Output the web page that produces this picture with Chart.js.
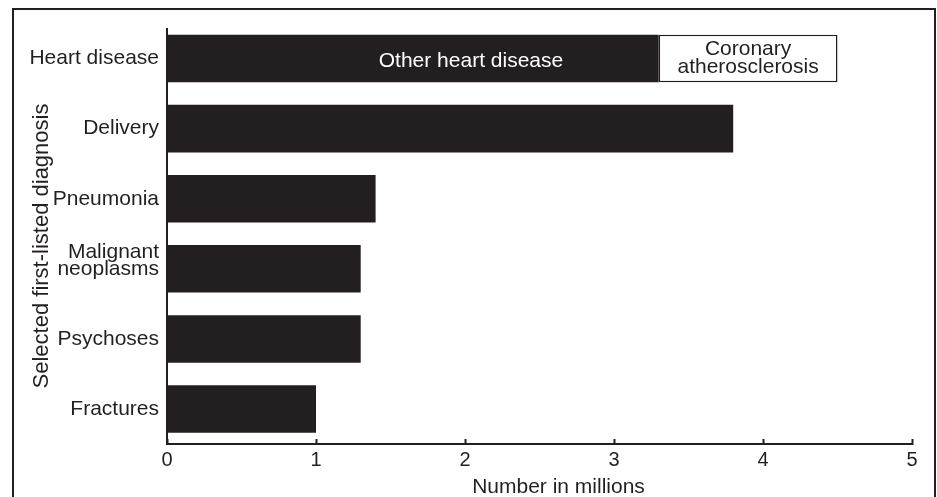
<!DOCTYPE html>
<html>
<head>
<meta charset="utf-8">
<script src="https://cdn.jsdelivr.net/npm/chart.js@4.4.1/dist/chart.umd.min.js"></script>
<style>
  html, body { margin: 0; padding: 0; background: #fff; }
  #wrap { position: relative; width: 937px; height: 497px; overflow: hidden; }
  #frame { position: absolute; left: 12px; top: 8px; width: 920px; height: 600px; border: 2px solid #231f20; }
  canvas { position: absolute; left: 0; top: 0; }
</style>
</head>
<body>
<div id="wrap">
  <div id="frame"></div>
  <canvas id="diagChart" width="937" height="497"></canvas>
</div>
<script>
// data (millions of discharges)
const diagnoses = ['Heart disease', 'Delivery', 'Pneumonia', ['Malignant', 'neoplasms'], 'Psychoses', 'Fractures'];
const otherValues = [3.3, 3.8, 1.4, 1.3, 1.3, 1.0];
const coronaryValues = [1.2];
const xTickValues = [0, 1, 2, 3, 4, 5];
const seriesNames = ['Other heart disease', ['Coronary', 'atherosclerosis']];
const otherLabelAt = 2.04;
const xTitle = 'Number in millions';
const yTitle = 'Selected first-listed diagnosis';

const ink = '#231f20';
const fontFamily = '"Liberation Sans", Arial, Helvetica, sans-serif';
Chart.defaults.font.family = fontFamily;
Chart.defaults.color = ink;

// text inside the heart disease bar + axis titles
const annotate = {
    id: 'annotate',
    afterDatasetsDraw(chart) {
        const ctx = chart.ctx;
        const xs = chart.scales.x;
        const other = chart.getDatasetMeta(0).data[0];
        const coronary = chart.getDatasetMeta(1).data[0];
        ctx.save();
        ctx.font = '21px ' + fontFamily;
        ctx.textAlign = 'center';
        ctx.textBaseline = 'alphabetic';
        ctx.fillStyle = '#fff';
        ctx.fillText(seriesNames[0], xs.getPixelForValue(otherLabelAt), other.y + 8);
        ctx.fillStyle = ink;
        const cx = (coronary.x + coronary.base) / 2;
        ctx.fillText(seriesNames[1][0], cx, coronary.y - 3.5);
        ctx.fillText(seriesNames[1][1], cx, coronary.y + 14);

        ctx.fillText(xTitle, 558.5, 493);
        ctx.font = '22px ' + fontFamily;
        ctx.translate(48, 246);
        ctx.rotate(-Math.PI / 2);
        ctx.fillText(yTitle, 0, 0);
        ctx.restore();
    }
};

const chart = new Chart(document.getElementById('diagChart'), {
    type: 'bar',
    data: {
        datasets: [{
            label: seriesNames[0],
            data: otherValues.map((v, i) => ({ x: v, y: i })),
            backgroundColor: ink,
            borderWidth: 0
        }, {
            label: seriesNames[1].join(' '),
            data: coronaryValues.map((v, i) => ({ x: v, y: i })),
            backgroundColor: '#fff',
            borderColor: ink,
            borderWidth: 1.5,
            borderSkipped: false
        }]
    },
    options: {
        indexAxis: 'y',
        responsive: false,
        animation: false,
        devicePixelRatio: 1,
        layout: { padding: { left: 0, top: 29, right: 25, bottom: 0 } },
        datasets: {
            bar: { categoryPercentage: 1, barPercentage: 0.678 }
        },
        plugins: {
            legend: { display: false },
            tooltip: { enabled: false }
        },
        scales: {
            x: {
                type: 'linear',
                position: 'bottom',
                stacked: true,
                offset: false,
                min: 0,
                max: 5,
                afterBuildTicks: s => { s.ticks = xTickValues.map(v => ({ value: v })); },
                afterFit: s => { s.height = 53; },
                grid: {
                    display: true,
                    offset: false,
                    drawOnChartArea: false,
                    drawTicks: true,
                    tickLength: -5,
                    tickWidth: 2,
                    tickColor: ink
                },
                border: { display: true, color: ink, width: 2 },
                ticks: { font: { size: 20 }, color: ink, padding: 9, maxRotation: 0 }
            },
            y: {
                type: 'linear',
                reverse: true,
                stacked: true,
                offset: false,
                min: -0.421,
                max: 5.499,
                afterBuildTicks: s => { s.ticks = diagnoses.map((d, i) => ({ value: i })); },
                afterFit: s => { s.width = 167; },
                grid: { display: false, drawTicks: false, offset: false },
                border: { display: true, color: ink, width: 2 },
                ticks: {
                    autoSkip: false,
                    font: { size: 21, lineHeight: 0.78 },
                    color: ink,
                    padding: 8,
                    // two-line label sits a little high in the original
                    callback: v => Array.isArray(diagnoses[v]) ? diagnoses[v].concat('') : diagnoses[v]
                }
            }
        }
    },
    plugins: [annotate]
});
</script>
</body>
</html>
